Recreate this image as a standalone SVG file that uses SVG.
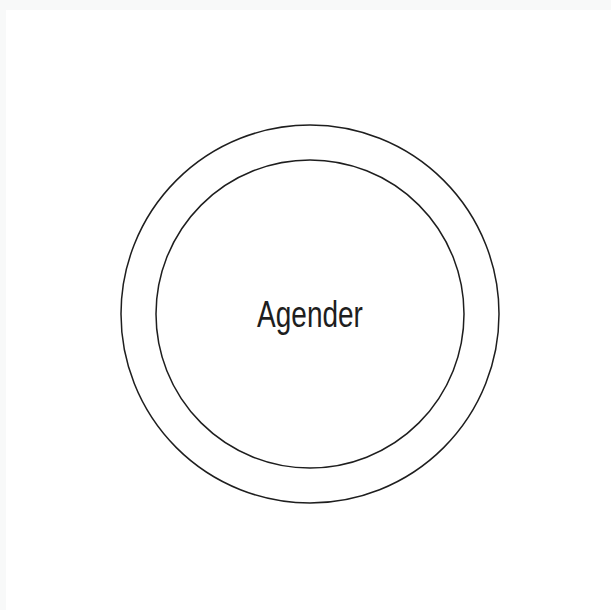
<svg xmlns="http://www.w3.org/2000/svg" width="611" height="610" viewBox="0 0 611 610">
<style>
.ring{fill:none;stroke:#1e1e1e;stroke-width:1.5}
.lbl{font-family:"Liberation Sans","DejaVu Sans",sans-serif;font-size:28px;fill:#1e1e1e;text-anchor:middle}
</style>
<rect x="0" y="0" width="611" height="610" fill="#f8f9f9"/>
<rect x="6" y="10" width="605" height="600" fill="#ffffff"/>
<g id="outer">
<circle class="ring" cx="310" cy="314" r="189"/>
</g>
<g id="inner">
<circle class="ring" cx="310" cy="314" r="154"/>
<text class="lbl" transform="translate(310,327) scale(1,1.3)" x="0" y="0">Agender</text>
</g>
</svg>
